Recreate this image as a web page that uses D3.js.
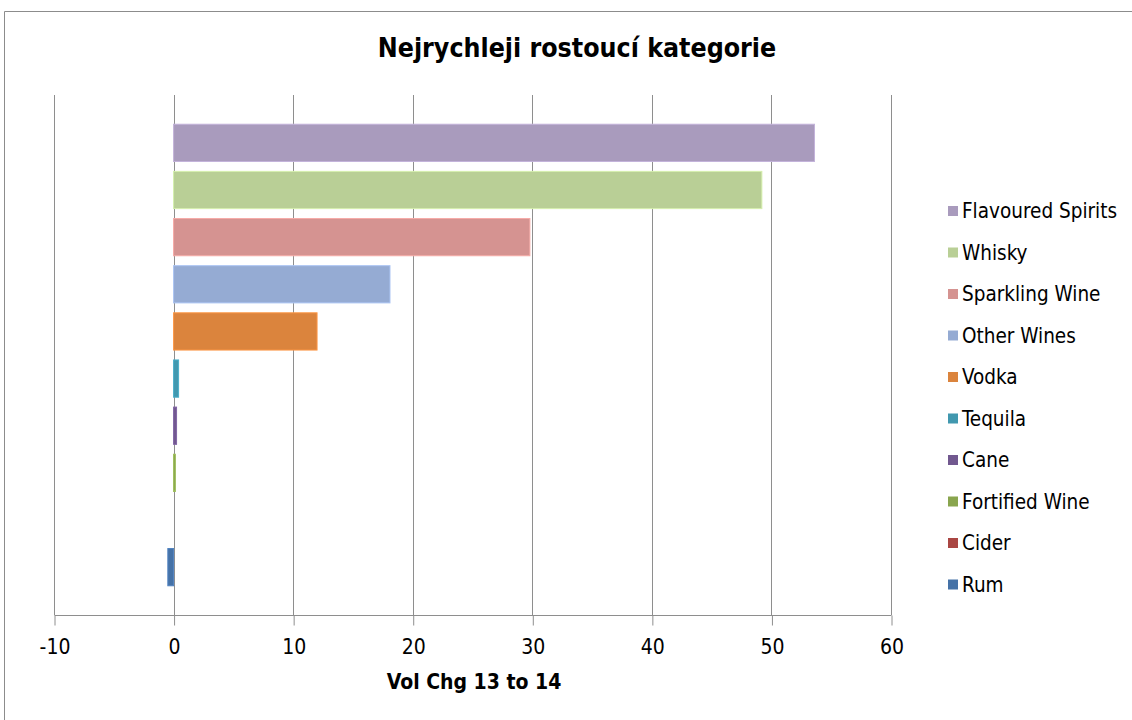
<!DOCTYPE html>
<html>
<head>
<meta charset="utf-8">
<script src="https://cdn.jsdelivr.net/npm/d3@7"></script>
<style>
  html, body { margin: 0; padding: 0; background: #fff; }
  svg { display: block; }
  text { font-family: "DejaVu Sans Condensed", "DejaVu Sans", sans-serif; fill: #000; }
</style>
</head>
<body>
<svg id="chart" width="1132" height="720"></svg>
<script>
// Volume change 2013 -> 2014 by drinks category
const categories = ["Flavoured Spirits", "Whisky", "Sparkling Wine", "Other Wines", "Vodka",
                    "Tequila", "Cane", "Fortified Wine", "Cider", "Rum"];
const values = [53.6, 49.2, 29.8, 18.1, 12.0, 0.42, 0.25, 0.15, 0, -0.48];
const colors = ["#a99bbd", "#b9cf96", "#d59391", "#95abd3", "#db843d",
                "#4198af", "#71588f", "#89a54e", "#aa4643", "#4572a7"];
const ticks = [-10, 0, 10, 20, 30, 40, 50, 60];
const titleText = "Nejrychleji rostoucí kategorie";
const axisTitle = "Vol Chg 13 to 14";

const svg = d3.select("#chart");

// chart frame
svg.append("path")
  .attr("d", "M4.5,740 V11.5 H1140")
  .attr("fill", "none").attr("stroke", "#8c8c8c").attr("stroke-width", 1);

const plot = { left: 54, right: 891, top: 95, bottom: 615 };

const x = d3.scaleLinear().domain([-10, 60]).range([plot.left, plot.right]);
const y = d3.scaleBand().domain(categories).range([plot.top, plot.bottom])
  .paddingInner(0.21).paddingOuter(0.62);
const color = d3.scaleOrdinal().domain(categories).range(colors);

// vertical gridlines
svg.append("g").selectAll("line").data(ticks).join("line")
  .attr("x1", d => Math.round(x(d)) + 0.5).attr("x2", d => Math.round(x(d)) + 0.5)
  .attr("y1", plot.top).attr("y2", plot.bottom)
  .attr("stroke", "#8e8e8e").attr("stroke-width", 1);

// bars
svg.append("g").selectAll("rect").data(categories).join("rect")
  .attr("x", (d, i) => x(Math.min(0, values[i])))
  .attr("y", d => y(d))
  .attr("width", (d, i) => Math.abs(x(values[i]) - x(0)))
  .attr("height", y.bandwidth())
  .attr("fill", d => color(d))
  .attr("stroke", d => d3.color(color(d)).brighter(0.4))
  .attr("stroke-width", 1);

// x axis (plain hyphen for negatives)
const axis = d3.axisBottom(x).tickValues(ticks).tickSize(10).tickPadding(14)
  .tickFormat(d => String(d));
const gAxis = svg.append("g")
  .attr("transform", `translate(0.5,${plot.bottom + 0.5})`)
  .call(axis);
gAxis.select(".domain").attr("stroke", "#8e8e8e").attr("d", `M${plot.left},0H${plot.right}`);
gAxis.selectAll(".tick line").attr("stroke", "#8e8e8e");
gAxis.selectAll(".tick text")
  .style("font-family", "'DejaVu Sans Condensed', 'DejaVu Sans', sans-serif")
  .attr("font-size", 21).attr("fill", "#000");

// title
svg.append("text")
  .attr("x", 577).attr("y", 57)
  .attr("text-anchor", "middle")
  .attr("font-size", 26.5).attr("font-weight", "bold")
  .text(titleText);

// axis title
svg.append("text")
  .attr("x", 474).attr("y", 689)
  .attr("text-anchor", "middle")
  .attr("font-size", 21).attr("font-weight", "bold")
  .text(axisTitle);

// legend
const legend = svg.append("g").attr("transform", "translate(948,211)");
const rows = legend.selectAll("g").data(categories).join("g")
  .attr("transform", (d, i) => `translate(0,${i * 41.5})`);
rows.append("rect")
  .attr("x", 0).attr("y", -5).attr("width", 10).attr("height", 10)
  .attr("fill", d => color(d));
rows.append("text")
  .attr("x", 14).attr("y", 0).attr("dy", "0.35em")
  .attr("font-size", 20.5)
  .attr("fill", "#333")
  .text(d => d);
</script>
</body>
</html>
